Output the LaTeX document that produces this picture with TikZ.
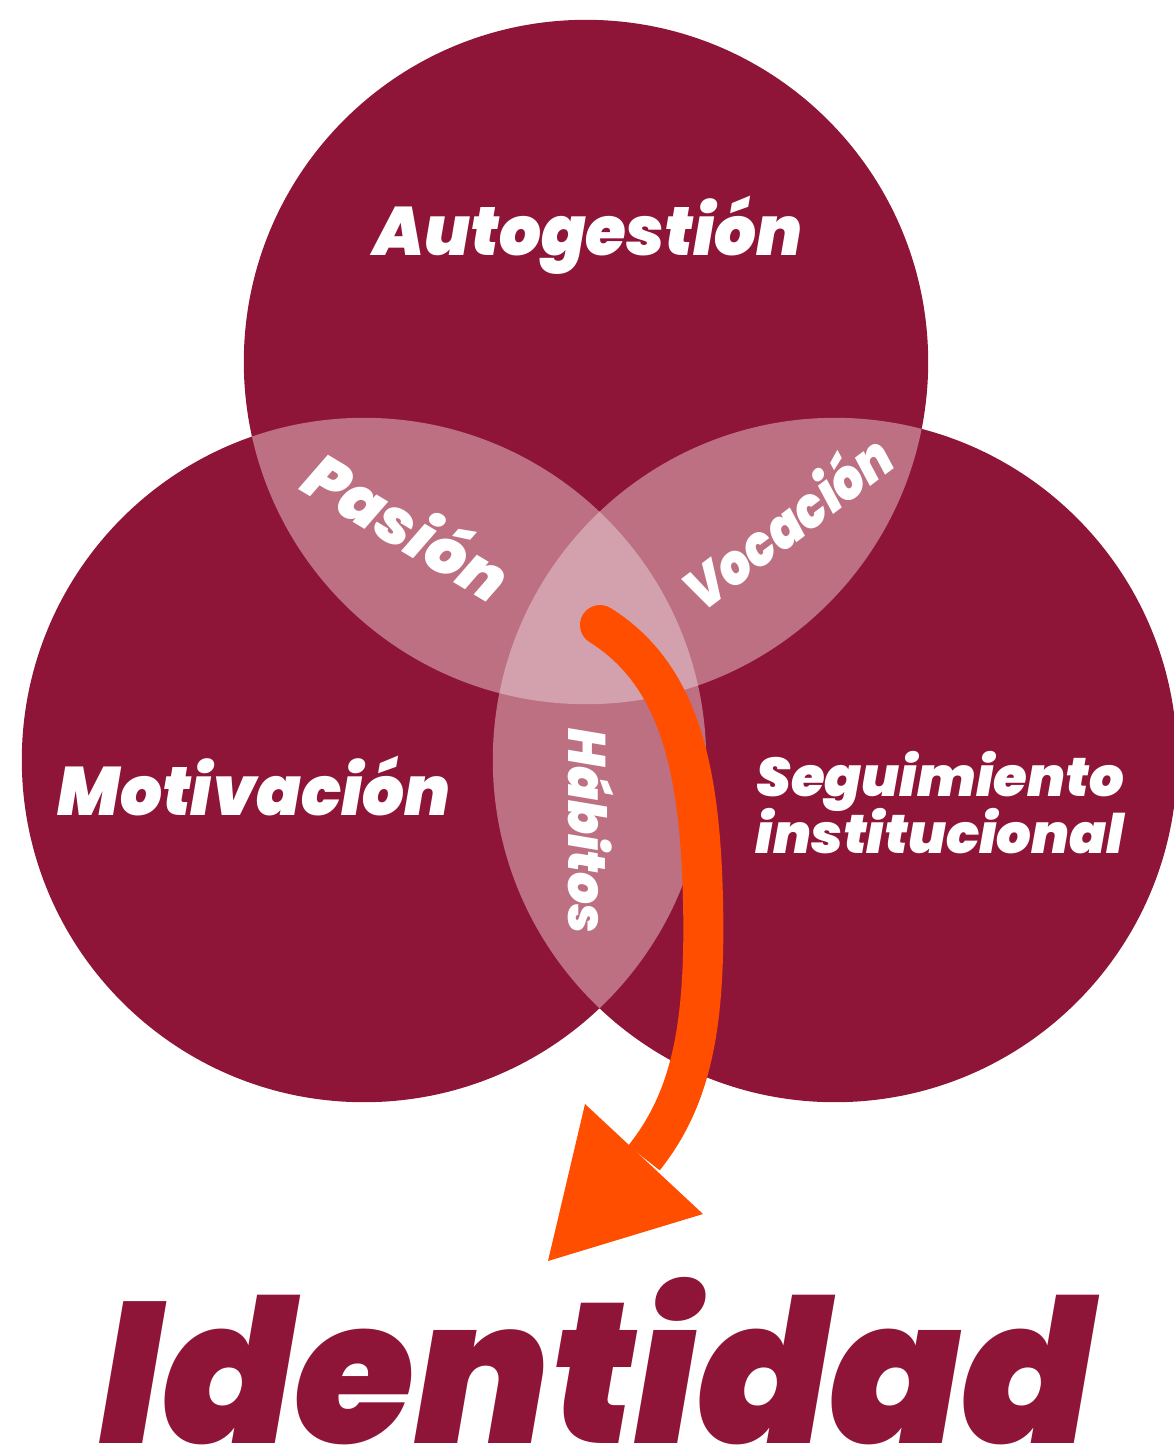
\documentclass[tikz,border=0pt]{standalone}
\usepackage{fontspec}
\newfontfamily\pop{Poppins}[UprightFont={* Black Italic}]
\definecolor{crimson}{HTML}{8E1538}
\definecolor{pairc}{HTML}{BC7082}
\definecolor{triplec}{HTML}{D3A0AE}
\definecolor{arroworange}{HTML}{FF4E00}
\tikzset{
  lbl/.style={text=white, inner sep=0pt, font=\pop\fontsize{#1}{#1}\selectfont},
  disc/.style={fill=#1},
}
\begin{document}
\begin{tikzpicture}[x=0.01cm,y=-0.01cm]
\useasboundingbox (0,0) rectangle (1174,1453);
\def\R{3.42cm}
\coordinate (ctop) at (586,362);
\coordinate (cleft) at (364,760);
\coordinate (cright) at (835,760);
% circles
\fill[disc=crimson] (ctop) circle[radius=\R];
\fill[disc=crimson] (cleft) circle[radius=\R];
\fill[disc=crimson] (cright) circle[radius=\R];
% pairwise overlaps
\begin{scope}
  \clip (ctop) circle[radius=\R];
  \fill[disc=pairc] (cleft) circle[radius=\R];
  \fill[disc=pairc] (cright) circle[radius=\R];
\end{scope}
\begin{scope}
  \clip (cleft) circle[radius=\R];
  \fill[disc=pairc] (cright) circle[radius=\R];
\end{scope}
% triple overlap
\begin{scope}
  \clip (ctop) circle[radius=\R];
  \clip (cleft) circle[radius=\R];
  \fill[disc=triplec] (cright) circle[radius=\R];
\end{scope}
% labels
\node[lbl=19.5, anchor=base, xscale=0.96] (auto) at (588,255) {Autogestión};
\node[lbl=19.5, anchor=base, xscale=0.96] (moti) at (254,815) {Motivación};
\node[lbl=15.5, anchor=base, align=center] (segu) at (940,853) {Seguimiento\\[-2pt]institucional};
\node[lbl=18, rotate=-31] (pasion) at (409,524) {Pasión};
\node[lbl=16, rotate=37, xscale=0.88] (vocacion) at (786,520) {Vocación};
\node[lbl=15, rotate=-90, xscale=0.95] (habitos) at (591,831) {Hábitos};
% arrow
\coordinate (astart) at (600,625);
\coordinate (amid) at (703,900);
\coordinate (aend) at (644,1158);
\coordinate (hA) at (585,1104);
\coordinate (hB) at (703,1214);
\coordinate (hC) at (548,1261);
\draw[arroworange, line width=0.4cm, line cap=round] (astart) .. controls (680,675) and (700,770) .. (amid);
\draw[arroworange, line width=0.4cm] (amid) .. controls (706,1030) and (690,1100) .. (aend);
\fill[arroworange] (hA) -- (hB) -- (hC) -- cycle;
% title
\node[text=crimson, inner sep=0pt, anchor=base, xscale=0.97, font=\pop\fontsize{57}{57}\selectfont] (ident) at (597,1443) {Identidad};
\end{tikzpicture}
\end{document}
